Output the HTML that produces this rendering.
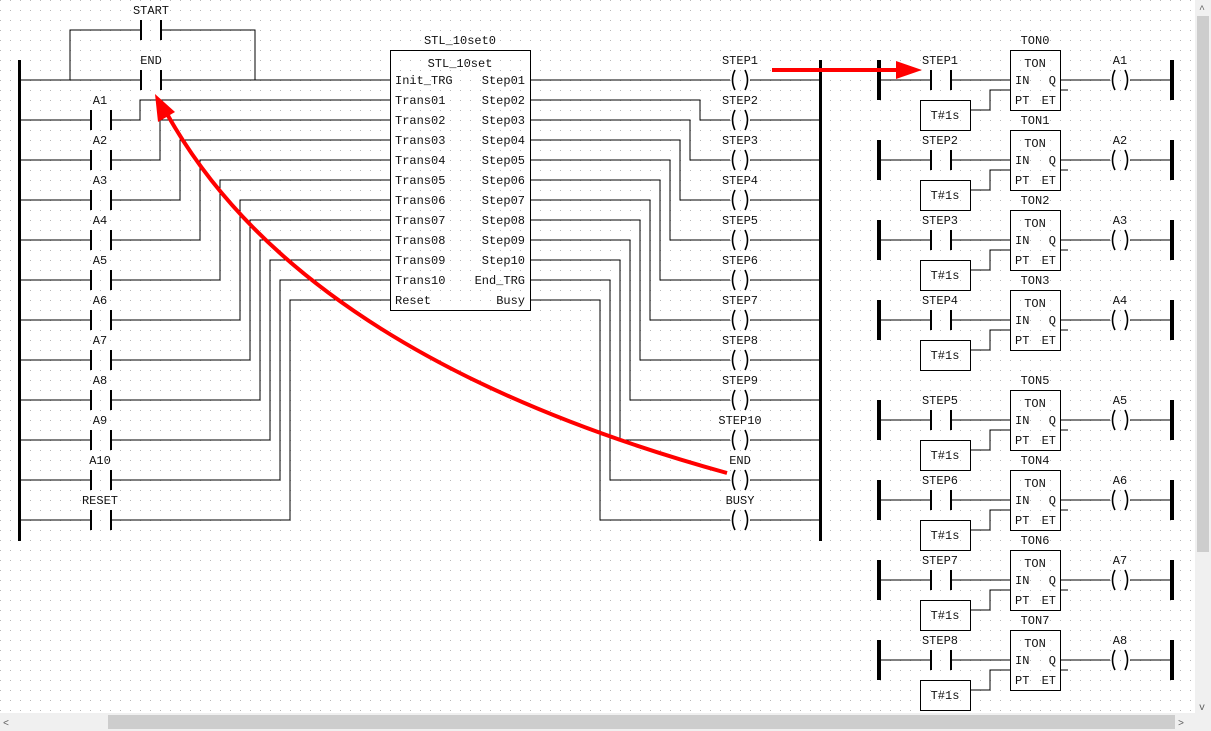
<!DOCTYPE html>
<html><head><meta charset="utf-8"><style>
html,body{margin:0;padding:0;background:#fff;width:1211px;height:731px;overflow:hidden}
svg{display:block}
text{font-family:"Liberation Mono",monospace;font-size:12px;fill:#111}
</style></head><body>
<svg width="1211" height="731" viewBox="0 0 1211 731" xmlns="http://www.w3.org/2000/svg">
<defs>
<pattern id="g" x="0" y="0" width="10" height="10" patternUnits="userSpaceOnUse"><rect x="0" y="0" width="1" height="1" fill="#b8b8b8"/></pattern>
<g id="con"><rect x="-11" y="-10" width="2" height="20" fill="#000"/><rect x="9" y="-10" width="2" height="20" fill="#000"/></g>
<g id="coil"><path d="M-5,-10 Q-10,0 -5,10 M5,-10 Q10,0 5,10" fill="none" stroke="#000" stroke-width="1.6"/></g>
</defs>
<rect width="1211" height="731" fill="#fff"/>
<rect x="0" y="0" width="1195" height="713" fill="url(#g)"/>

<g stroke="#000" stroke-width="1" fill="none" shape-rendering="crispEdges">
<path d="M70,80 V30 H141 M161,30 H255 V80"/>
<path d="M20,80 H141 M161,80 H390"/>
<path d="M20,120 H91 M111,120 H140 V100 H390"/>
<path d="M20,160 H91 M111,160 H160 V120 H390"/>
<path d="M20,200 H91 M111,200 H180 V140 H390"/>
<path d="M20,240 H91 M111,240 H200 V160 H390"/>
<path d="M20,280 H91 M111,280 H220 V180 H390"/>
<path d="M20,320 H91 M111,320 H240 V200 H390"/>
<path d="M20,360 H91 M111,360 H250 V220 H390"/>
<path d="M20,400 H91 M111,400 H260 V240 H390"/>
<path d="M20,440 H91 M111,440 H270 V260 H390"/>
<path d="M20,480 H91 M111,480 H280 V280 H390"/>
<path d="M20,520 H91 M111,520 H290 V300 H390"/>
<rect x="390.5" y="50.5" width="140" height="260"/>
<path d="M530,80 H730 M750,80 H820"/>
<path d="M530,100 H700 V120 H730 M750,120 H820"/>
<path d="M530,120 H690 V160 H730 M750,160 H820"/>
<path d="M530,140 H680 V200 H730 M750,200 H820"/>
<path d="M530,160 H670 V240 H730 M750,240 H820"/>
<path d="M530,180 H660 V280 H730 M750,280 H820"/>
<path d="M530,200 H650 V320 H730 M750,320 H820"/>
<path d="M530,220 H640 V360 H730 M750,360 H820"/>
<path d="M530,240 H630 V400 H730 M750,400 H820"/>
<path d="M530,260 H620 V440 H730 M750,440 H820"/>
<path d="M530,280 H610 V480 H730 M750,480 H820"/>
<path d="M530,300 H600 V520 H730 M750,520 H820"/>
</g>
<rect x="18" y="60" width="3" height="481" fill="#000"/>
<rect x="819" y="60" width="3" height="481" fill="#000"/>

<use href="#con" x="151" y="30"/><use href="#con" x="151" y="80"/>
<use href="#con" x="101" y="120"/><use href="#con" x="101" y="160"/><use href="#con" x="101" y="200"/><use href="#con" x="101" y="240"/><use href="#con" x="101" y="280"/><use href="#con" x="101" y="320"/><use href="#con" x="101" y="360"/><use href="#con" x="101" y="400"/><use href="#con" x="101" y="440"/><use href="#con" x="101" y="480"/><use href="#con" x="101" y="520"/>
<use href="#coil" x="740" y="80"/><use href="#coil" x="740" y="120"/><use href="#coil" x="740" y="160"/><use href="#coil" x="740" y="200"/><use href="#coil" x="740" y="240"/><use href="#coil" x="740" y="280"/><use href="#coil" x="740" y="320"/><use href="#coil" x="740" y="360"/><use href="#coil" x="740" y="400"/><use href="#coil" x="740" y="440"/><use href="#coil" x="740" y="480"/><use href="#coil" x="740" y="520"/>

<g text-anchor="middle">
<text x="151" y="14">START</text><text x="151" y="64">END</text>
<text x="100" y="104">A1</text><text x="100" y="144">A2</text><text x="100" y="184">A3</text><text x="100" y="224">A4</text><text x="100" y="264">A5</text><text x="100" y="304">A6</text><text x="100" y="344">A7</text><text x="100" y="384">A8</text><text x="100" y="424">A9</text><text x="100" y="464">A10</text><text x="100" y="504">RESET</text>
<text x="460" y="44">STL_10set0</text><text x="460" y="67">STL_10set</text>
<text x="740" y="64">STEP1</text><text x="740" y="104">STEP2</text><text x="740" y="144">STEP3</text><text x="740" y="184">STEP4</text><text x="740" y="224">STEP5</text><text x="740" y="264">STEP6</text><text x="740" y="304">STEP7</text><text x="740" y="344">STEP8</text><text x="740" y="384">STEP9</text><text x="740" y="424">STEP10</text><text x="740" y="464">END</text><text x="740" y="504">BUSY</text>
</g>
<g>
<text x="395" y="84">Init_TRG</text><text x="395" y="104">Trans01</text><text x="395" y="124">Trans02</text><text x="395" y="144">Trans03</text><text x="395" y="164">Trans04</text><text x="395" y="184">Trans05</text><text x="395" y="204">Trans06</text><text x="395" y="224">Trans07</text><text x="395" y="244">Trans08</text><text x="395" y="264">Trans09</text><text x="395" y="284">Trans10</text><text x="395" y="304">Reset</text>
</g>
<g text-anchor="end">
<text x="525" y="84">Step01</text><text x="525" y="104">Step02</text><text x="525" y="124">Step03</text><text x="525" y="144">Step04</text><text x="525" y="164">Step05</text><text x="525" y="184">Step06</text><text x="525" y="204">Step07</text><text x="525" y="224">Step08</text><text x="525" y="244">Step09</text><text x="525" y="264">Step10</text><text x="525" y="284">End_TRG</text><text x="525" y="304">Busy</text>
</g>

<defs>
<g id="ton">
<rect x="877" y="-20" width="4" height="40" fill="#000"/>
<rect x="1170" y="-20" width="4" height="40" fill="#000"/>
<g stroke="#000" stroke-width="1" fill="none" shape-rendering="crispEdges">
<path d="M880,0 H931 M951,0 H1010 M1060,0 H1110 M1130,0 H1171 M970,30 H990 V10 H1010 M1060,10 H1068"/>
<rect x="1010.5" y="-29.5" width="50" height="60"/>
<rect x="920.5" y="20.5" width="50" height="30"/>
</g>
<rect x="930" y="-10" width="2" height="20" fill="#000"/><rect x="950" y="-10" width="2" height="20" fill="#000"/>
<path d="M1115,-10 Q1110,0 1115,10 M1125,-10 Q1130,0 1125,10" fill="none" stroke="#000" stroke-width="1.6"/>
<text x="1035" y="-13" text-anchor="middle">TON</text>
<text x="1015" y="4">IN</text><text x="1056" y="4" text-anchor="end">Q</text>
<text x="1015" y="24">PT</text><text x="1056" y="24" text-anchor="end">ET</text>
<text x="945" y="39" text-anchor="middle">T#1s</text>
</g>
</defs>
<use href="#ton" y="80"/><use href="#ton" y="160"/><use href="#ton" y="240"/><use href="#ton" y="320"/>
<use href="#ton" y="420"/><use href="#ton" y="500"/><use href="#ton" y="580"/><use href="#ton" y="660"/>
<g text-anchor="middle">
<text x="940" y="64">STEP1</text><text x="1035" y="44">TON0</text><text x="1120" y="64">A1</text>
<text x="940" y="144">STEP2</text><text x="1035" y="124">TON1</text><text x="1120" y="144">A2</text>
<text x="940" y="224">STEP3</text><text x="1035" y="204">TON2</text><text x="1120" y="224">A3</text>
<text x="940" y="304">STEP4</text><text x="1035" y="284">TON3</text><text x="1120" y="304">A4</text>
<text x="940" y="404">STEP5</text><text x="1035" y="384">TON5</text><text x="1120" y="404">A5</text>
<text x="940" y="484">STEP6</text><text x="1035" y="464">TON4</text><text x="1120" y="484">A6</text>
<text x="940" y="564">STEP7</text><text x="1035" y="544">TON6</text><text x="1120" y="564">A7</text>
<text x="940" y="644">STEP8</text><text x="1035" y="624">TON7</text><text x="1120" y="644">A8</text>
</g>

<g fill="none" stroke="#f00" stroke-width="4">
<path d="M772,70 H900"/>
<path d="M727,473 Q300,355 166,112"/>
</g>
<polygon points="922,70 896,61 896,79" fill="#f00"/>
<polygon points="155,94 158,122 175,112" fill="#f00"/>

<rect x="1195" y="0" width="16" height="731" fill="#f0f0f0"/>
<rect x="1197" y="16" width="12" height="536" fill="#cdcdcd"/>
<rect x="0" y="713" width="1211" height="18" fill="#f0f0f0"/>
<rect x="108" y="715" width="1067" height="14" fill="#cdcdcd"/>
<text x="1199" y="12" style="font-size:10px;fill:#606060">^</text>
<text x="1199" y="710" style="font-size:10px;fill:#606060">v</text>
<text x="3" y="726" style="font-size:10px;fill:#606060">&lt;</text>
<text x="1178" y="726" style="font-size:10px;fill:#606060">&gt;</text>
</svg>
</body></html>
